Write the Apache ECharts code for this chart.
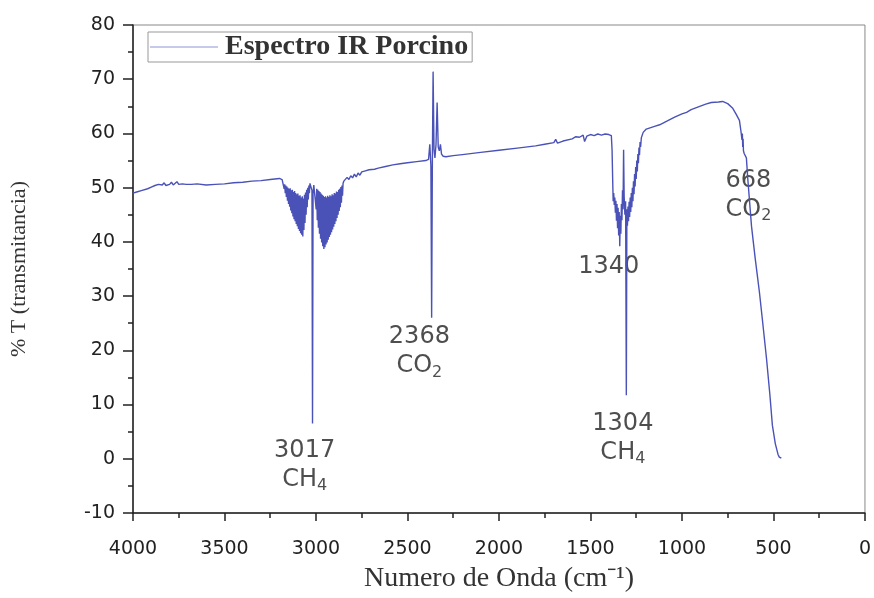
<!DOCTYPE html>
<html>
<head>
<meta charset="utf-8">
<script src="https://cdn.jsdelivr.net/npm/echarts@6/dist/echarts.min.js"></script>
<style>
  html, body { margin: 0; padding: 0; background: #fff; }
  #chart { width: 874px; height: 598px; }
</style>
</head>
<body>
<div id="chart"></div>
<script>
// espectro IR: [numero de onda (cm-1), %T]
const baseline4000 = [
  [4000, 49.0], [3980, 49.2], [3950, 49.5], [3920, 49.8], [3900, 50.1], [3890, 49.9],
  [3880, 50.4], [3870, 50.2], [3860, 50.6], [3850, 50.3], [3840, 50.5], [3830, 50.9],
  [3820, 50.4], [3810, 50.7], [3800, 50.6], [3790, 51.0], [3780, 50.5], [3770, 50.8],
  [3760, 51.1], [3750, 50.6], [3740, 50.9], [3730, 50.7], [3720, 51.0], [3710, 50.6],
  [3700, 50.8], [3680, 50.6], [3650, 50.7], [3600, 50.5], [3550, 50.6], [3500, 50.7],
  [3450, 50.9], [3400, 51.0], [3350, 51.2], [3300, 51.3], [3250, 51.5], [3200, 51.7],
  [3185, 51.5]
];

// banda CH4 3017
const ch4Band3017 = [
  [3177, 51.2], [3174, 49.8], [3171, 50.6], [3168, 49.0], [3165, 50.4], [3162, 48.3],
  [3159, 50.2], [3156, 47.6], [3153, 50.0], [3150, 47.0], [3147, 49.8], [3144, 46.5],
  [3141, 49.9], [3138, 45.8], [3135, 49.5], [3132, 45.3], [3129, 49.6], [3126, 44.7],
  [3123, 49.2], [3120, 44.2], [3117, 49.4], [3114, 43.8], [3111, 49.0], [3108, 43.3],
  [3105, 48.8], [3102, 42.9], [3099, 48.9], [3096, 42.4], [3093, 48.5], [3090, 42.0],
  [3087, 48.6], [3084, 41.6], [3081, 48.2], [3078, 41.3], [3075, 48.4], [3072, 41.0],
  [3069, 48.0], [3066, 42.2], [3063, 48.7], [3060, 43.5], [3057, 49.1], [3054, 45.0],
  [3051, 49.6], [3048, 46.4], [3045, 50.0], [3042, 47.8], [3039, 50.4], [3036, 49.0],
  [3033, 50.8], [3030, 50.6], [3026, 50.8], [3022, 49.5], [3019, 6.5], [3016, 49.0],
  [3012, 50.5], [3006, 50.8],
  [3002, 50.6], [2999, 46.0], [2996, 49.8], [2993, 44.0], [2990, 49.6], [2987, 42.6],
  [2984, 49.4], [2981, 41.5], [2978, 49.2], [2975, 40.6], [2972, 48.9], [2969, 39.9],
  [2966, 48.7], [2963, 39.2], [2960, 48.5], [2957, 38.7], [2954, 48.3], [2951, 39.0],
  [2948, 48.4], [2945, 39.5], [2942, 48.2], [2939, 39.9], [2936, 48.5], [2933, 40.4],
  [2930, 48.3], [2927, 40.9], [2924, 48.6], [2921, 41.3], [2918, 48.4], [2915, 41.8],
  [2912, 48.8], [2909, 42.3], [2906, 48.6], [2903, 42.8], [2900, 49.0], [2897, 43.3],
  [2894, 48.9], [2891, 43.8], [2888, 49.3], [2885, 44.4], [2882, 49.2], [2879, 45.0],
  [2876, 49.6], [2873, 45.7], [2870, 49.8], [2867, 46.4], [2864, 50.1], [2861, 47.2],
  [2858, 50.4], [2855, 48.5], [2852, 50.8], [2848, 51.2]
];

// banda CO2 2368
const co2Band2368 = [
  [2840, 51.4], [2830, 51.9], [2820, 51.5], [2810, 52.2], [2800, 51.8], [2790, 52.5],
  [2780, 52.0], [2770, 52.7], [2760, 52.3], [2750, 52.9], [2740, 52.6], [2730, 53.1],
  [2720, 52.8], [2710, 53.3], [2700, 53.1], [2680, 53.4], [2660, 53.6], [2620, 53.9],
  [2580, 54.2], [2540, 54.4], [2500, 54.6], [2450, 54.8], [2400, 55.0], [2385, 55.2],
  [2378, 58.0], [2372, 54.0], [2368, 26.0], [2364, 55.0], [2360, 71.4], [2355, 57.0],
  [2350, 55.5], [2344, 58.0], [2338, 65.7], [2332, 57.5], [2326, 56.8], [2320, 58.0],
  [2314, 56.2], [2305, 55.8], [2290, 55.7], [2250, 55.9], [2200, 56.1], [2100, 56.5],
  [2000, 56.9], [1900, 57.3], [1800, 57.7], [1750, 58.0], [1700, 58.3], [1690, 58.9],
  [1680, 58.2], [1650, 58.6], [1600, 59.0], [1580, 59.4], [1560, 59.3], [1540, 59.7],
  [1532, 58.5], [1520, 59.5], [1500, 59.8], [1480, 59.6], [1460, 59.9], [1440, 59.7],
  [1420, 59.9]
];

// banda CH4 1340 / 1304
const ch4Band1304 = [
  [1400, 59.8], [1392, 59.9], [1386, 59.6], [1382, 57.0], [1379, 52.0], [1376, 47.5],
  [1373, 49.0], [1370, 46.8], [1367, 48.2], [1364, 45.4], [1361, 47.6], [1358, 43.9],
  [1355, 47.0], [1352, 42.5], [1349, 46.3], [1346, 41.2], [1343, 45.5], [1340, 39.2],
  [1337, 44.8], [1334, 41.5], [1331, 47.0], [1328, 44.0], [1325, 49.5], [1322, 46.0],
  [1319, 57.0], [1316, 48.5], [1312, 45.0], [1308, 47.5], [1304, 11.7], [1301, 46.0],
  [1298, 43.0], [1295, 46.5], [1292, 43.8], [1289, 47.4], [1286, 44.6], [1283, 48.2],
  [1280, 45.5], [1277, 49.0], [1274, 46.4], [1271, 50.0], [1268, 47.5], [1265, 51.2],
  [1262, 48.8], [1259, 52.5], [1256, 50.2], [1253, 53.8], [1250, 51.6], [1247, 55.0],
  [1244, 53.0], [1241, 56.2], [1238, 54.5], [1235, 57.4], [1232, 56.0], [1229, 58.4],
  [1226, 57.5], [1222, 59.2], [1218, 59.0], [1212, 60.2], [1205, 60.5], [1195, 60.8]
];

// banda CO2 668 y caida final
const co2Band668 = [
  [1150, 61.3], [1122, 61.6], [1080, 62.3], [1040, 63.0], [1000, 63.6], [975, 63.9],
  [950, 64.4], [903, 65.0], [870, 65.4], [840, 65.7], [800, 65.8], [778, 65.9],
  [750, 65.5], [724, 64.7], [705, 63.6], [686, 62.4], [678, 60.5], [672, 58.8],
  [670, 60.0], [668, 57.5], [666, 59.0], [664, 56.8], [660, 56.3], [648, 55.5],
  [640, 51.5], [620, 42.9], [600, 37.0], [577, 30.8], [560, 25.5], [538, 18.5],
  [520, 12.0], [506, 6.2], [490, 2.8], [475, 0.8], [468, 0.3], [460, 0.0], [457, 0.1]
];

// etiquetas de picos: [x, y, texto]
const peakLabels = [
  [3062, -1.2, '{n|3017}\n{n|CH}{s|4}'],
  [2435, 19.8, '{n|2368}\n{n|CO}{s|2}'],
  [1400, 35.4, '{n|1340}'],
  [1323, 3.8, '{n|1304}\n{n|CH}{s|4}'],
  [637, 48.6, '{n|668}\n{n|CO}{s|2}']
];

const spectrum = [].concat(baseline4000, ch4Band3017, co2Band2368, ch4Band1304, co2Band668);

const axisColor = '#222';
const myChart = echarts.init(document.getElementById('chart'));

myChart.setOption({
  animation: false,
  grid: {
    left: 132,
    right: 8,
    top: 25,
    bottom: 83,
    show: true,
    borderColor: '#888',
    borderWidth: 1,
  },
  legend: {
    data: [{ name: 'Espectro IR Porcino', icon: 'rect' }],
    left: 148,
    top: 32,
    orient: 'horizontal',
    borderColor: '#999',
    borderWidth: 1,
    borderRadius: 0,
    padding: [1, 4, 1, 2],
    itemWidth: 68,
    itemHeight: 1,
    itemGap: 0,
    textStyle: {
      fontFamily: 'Liberation Serif',
      fontSize: 28,
      fontWeight: 'bold',
      color: '#333',
      padding: [0, 0, 0, 2],
    },
  },
  xAxis: {
    type: 'value',
    inverse: true,
    min: 0,
    max: 4000,
    interval: 500,
    name: 'Numero de Onda (cm⁻¹)',
    nameLocation: 'middle',
    nameGap: 52,
    nameTextStyle: { fontFamily: 'Liberation Serif', fontSize: 28, color: '#333' },
    axisLine: { onZero: false, lineStyle: { color: axisColor, width: 1.5 } },
    axisTick: { length: 8, lineStyle: { color: axisColor, width: 1.5 } },
    minorTick: { show: true, splitNumber: 2, length: 5, lineStyle: { color: axisColor, width: 1.5 } },
    axisLabel: { margin: 27, fontFamily: 'DejaVu Sans', fontSize: 19, color: '#222', formatter: v => String(v) },
    splitLine: { show: false },
  },
  yAxis: {
    type: 'value',
    min: -10,
    max: 80,
    interval: 10,
    name: '% T (transmitancia)',
    nameLocation: 'middle',
    nameGap: 103,
    nameTextStyle: { fontFamily: 'Liberation Serif', fontSize: 22, color: '#333' },
    axisLine: { onZero: false, lineStyle: { color: axisColor, width: 1.5 } },
    axisTick: { length: 10, lineStyle: { color: axisColor, width: 1.5 } },
    minorTick: { show: true, splitNumber: 2, length: 5, lineStyle: { color: axisColor, width: 1.5 } },
    axisLabel: { margin: 18, fontFamily: 'DejaVu Sans', fontSize: 19, color: '#222', formatter: v => String(v) },
    splitLine: { show: false },
  },
  series: [
    {
      name: 'Espectro IR Porcino',
      type: 'line',
      data: spectrum,
      showSymbol: false,
      color: '#8f93d8',
      lineStyle: { color: '#4a52b8', width: 1.4 },
    },
    {
      name: 'etiquetas',
      type: 'scatter',
      symbolSize: 0,
      silent: true,
      data: peakLabels.map(p => ({ value: [p[0], p[1]], label: { formatter: p[2] } })),
      label: {
        show: true,
        position: 'inside',
        align: 'center',
        verticalAlign: 'middle',
        rich: {
          n: { fontFamily: 'DejaVu Sans', fontSize: 24, color: '#222', lineHeight: 29 },
          s: { fontFamily: 'DejaVu Sans', fontSize: 16, color: '#222', lineHeight: 29, verticalAlign: 'bottom' },
        },
      },
    },
  ],
});
</script>
</body>
</html>
